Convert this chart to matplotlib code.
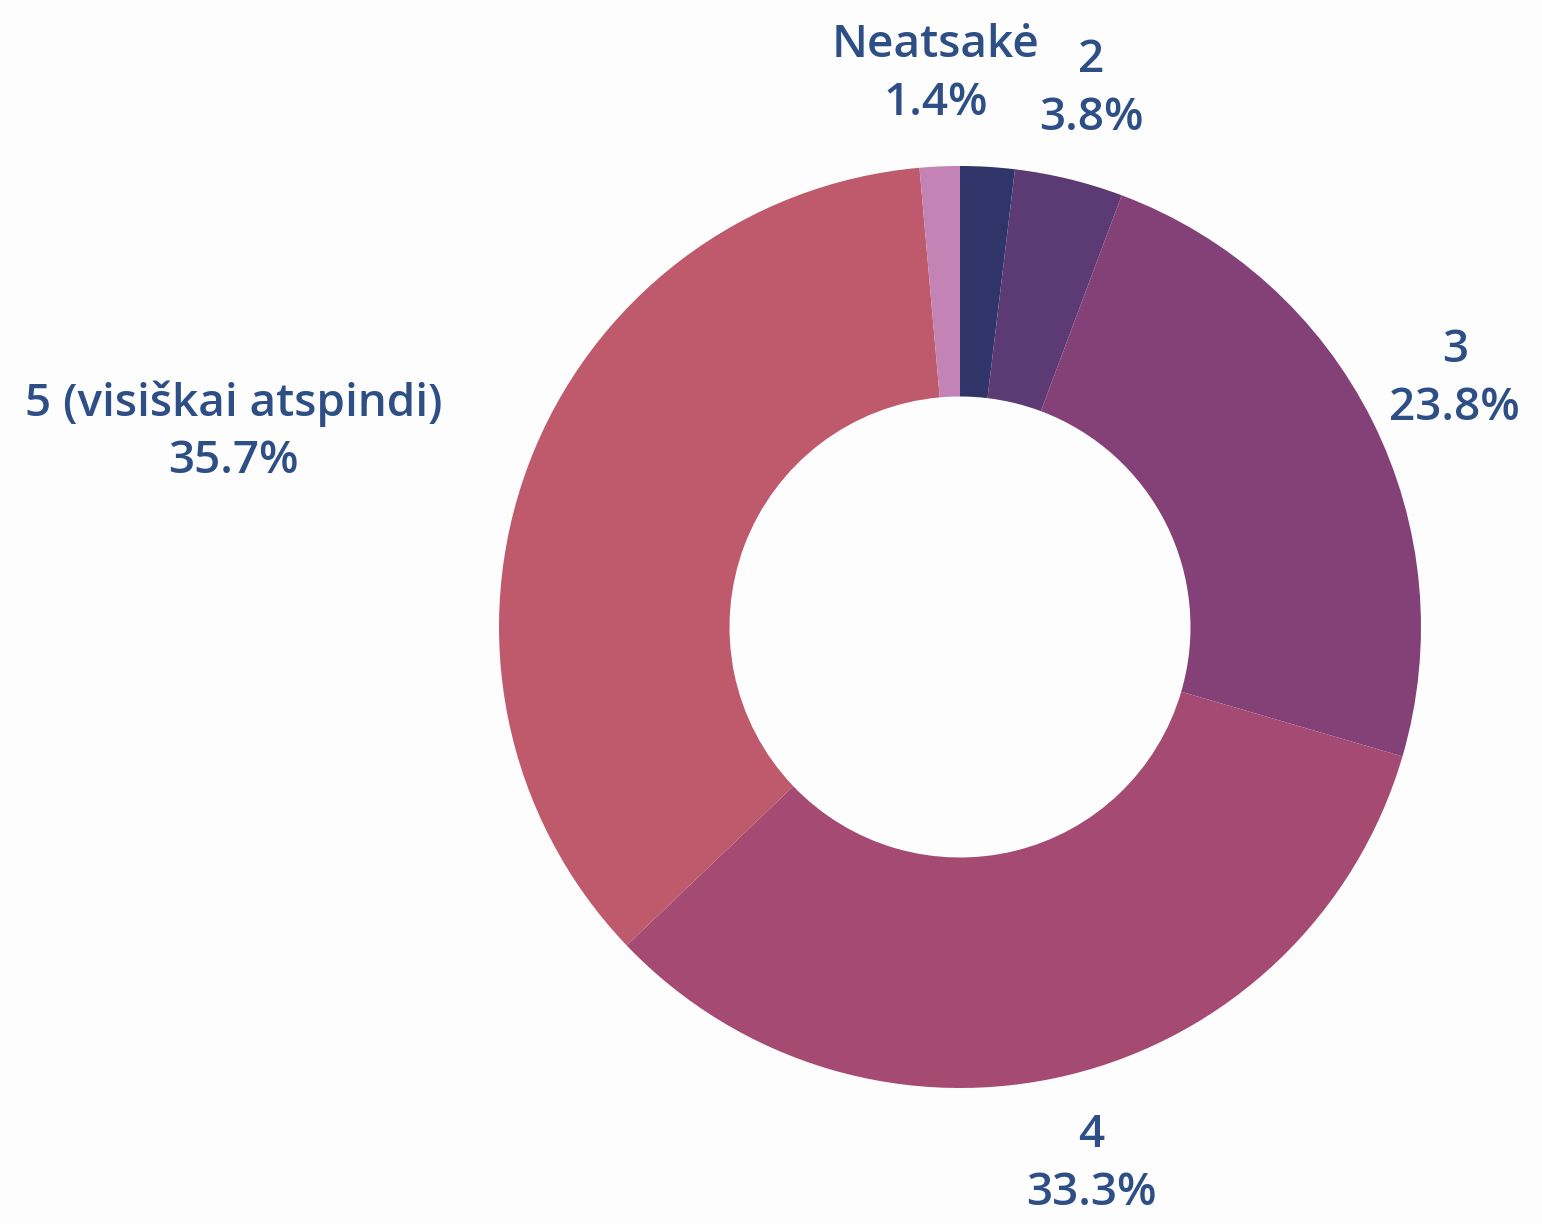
import numpy as np
import matplotlib.pyplot as plt

labels = ['1', '2', '3', '4', '5 (visiškai atspindi)', 'Neatsakė']
values = [1.9, 3.8, 23.8, 33.3, 35.7, 1.4]
show_label = [False, True, True, True, True, True]
colors = ['#2f3469', '#5c3a74', '#834177', '#a54a72', '#be5a6c', '#c383b5']

W, H = 1542, 1224
cx, cy, r = 960, 627, 461

fig = plt.figure(figsize=(W / 100, H / 100), dpi=100, facecolor='#fdfdfd')
ax = fig.add_axes([0, 0, 1, 1])
ax.set_facecolor('#fdfdfd')

wedges, _ = ax.pie(values, colors=colors, startangle=90, counterclock=False,
                   radius=1, wedgeprops=dict(width=0.5, linewidth=0))

ax.set_xlim(-cx / r, (W - cx) / r)
ax.set_ylim(-(H - cy) / r, cy / r)
ax.set_aspect('auto')
ax.axis('off')

total = sum(values)
cum = 0
for lab, v, show in zip(labels, values, show_label):
    mid = (cum + v / 2) / total * 2 * np.pi
    cum += v
    if not show:
        continue
    x = 1.2 * np.sin(mid)
    y = 1.2 * np.cos(mid)
    ha = 'right' if x < -0.5 else 'center'
    ax.text(x, y, f'{lab}\n{v:.1f}%', ha=ha, va='center', multialignment='center',
            fontsize=33, color='#2d4f86', family='Open Sans', fontweight='semibold',
            linespacing=1.37)

fig.savefig('out.png', dpi=100, facecolor=fig.get_facecolor())
